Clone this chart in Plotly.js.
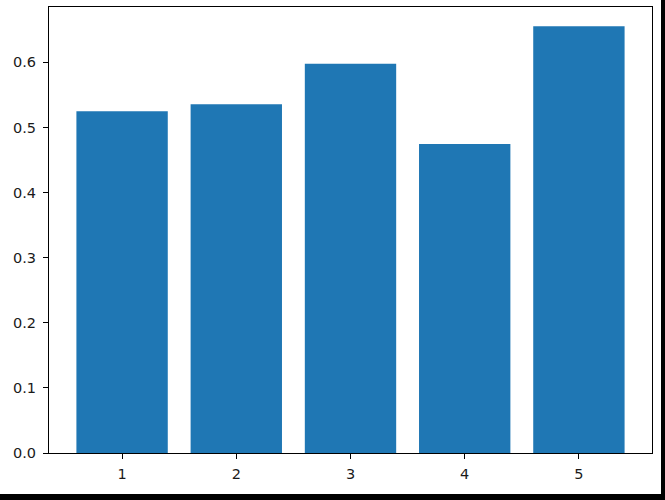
<!DOCTYPE html>
<html>
<head>
<meta charset="utf-8">
<script src="https://cdn.plot.ly/plotly-3.0.1.min.js"></script>
<style>
html, body { margin: 0; padding: 0; background: #000; }
#chart { width: 661px; height: 494px; background: #fff; }
</style>
</head>
<body>
<div id="chart"></div>
<script>
var categories = [1, 2, 3, 4, 5];
var values = [0.5247, 0.5355, 0.598, 0.4747, 0.6553];
var yTicks = [0.0, 0.1, 0.2, 0.3, 0.4, 0.5, 0.6];
var yTickLabels = ['0.0', '0.1', '0.2', '0.3', '0.4', '0.5', '0.6'];

var trace = {
  type: 'bar',
  x: categories,
  y: values,
  width: 0.8,
  marker: { color: '#1f77b4', line: { width: 0 } },
  hoverinfo: 'x+y'
};

var axisCommon = {
  showline: true,
  linecolor: '#000',
  linewidth: 1,
  mirror: true,
  showgrid: false,
  zeroline: false,
  ticks: 'outside',
  ticklen: 5,
  tickwidth: 1,
  tickcolor: '#000',
  tickfont: { family: 'DejaVu Sans', size: 14.5, color: '#1a1a1a' }
};

var layout = {
  width: 661,
  height: 494,
  margin: { l: 49, r: 9, t: 7, b: 41, pad: 0 },
  paper_bgcolor: '#fff',
  plot_bgcolor: '#fff',
  showlegend: false,
  xaxis: Object.assign({}, axisCommon, {
    range: [0.36, 5.64],
    tickmode: 'array',
    tickvals: categories,
    ticktext: categories.map(String),
    ticklabelstandoff: 3
  }),
  yaxis: Object.assign({}, axisCommon, {
    range: [0, 0.685],
    tickmode: 'array',
    tickvals: yTicks,
    ticktext: yTickLabels,
    ticklabelstandoff: 4
  })
};

Plotly.newPlot('chart', [trace], layout, { displayModeBar: false, staticPlot: true });
</script>
</body>
</html>
